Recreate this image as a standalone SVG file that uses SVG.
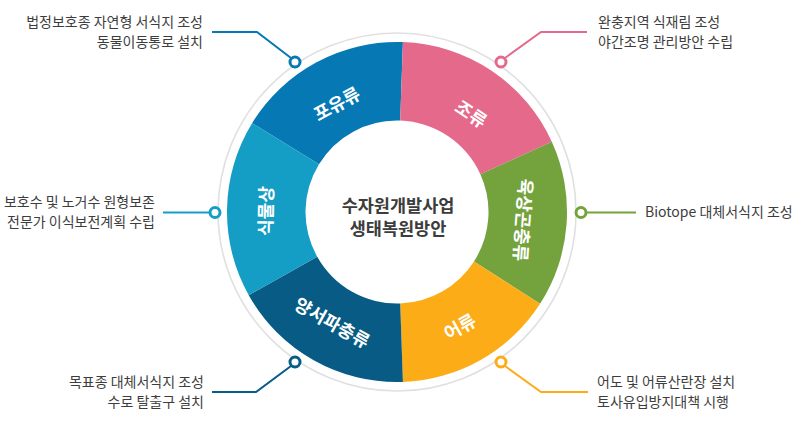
<svg xmlns="http://www.w3.org/2000/svg" width="804" height="424" viewBox="0 0 804 424">
<style>
.seg-label{font-family:"Noto Sans CJK KR","Noto Sans",sans-serif;font-size:18px;font-weight:700;fill:#ffffff;text-anchor:middle}
.center{font-family:"Noto Sans CJK KR","Noto Sans",sans-serif;font-size:17.5px;font-weight:700;fill:#3c3c3c;text-anchor:middle}
.note{font-family:"Noto Sans CJK KR","Noto Sans",sans-serif;font-size:14px;fill:#3d3d3d}
.end{text-anchor:end}
.dot{fill:#ffffff;stroke-width:3}
.lead{fill:none;stroke-width:2}
</style>
<rect width="804" height="424" fill="#ffffff"/>
<circle cx="397" cy="212" r="179" fill="none" stroke="#e0e0e0" stroke-width="1.6"/>
<g id="mammals">
<path d="M252.05,123.17 A170,170 0 0 1 402.93,42.10 L400.19,120.56 A91.5,91.5 0 0 0 318.98,164.19 Z" fill="#0679b4"/>
<text class="seg-label" transform="translate(337,104) rotate(-28.25)" dy="6.5">포유류</text>
</g>
<g id="birds">
<path d="M402.93,42.10 A170,170 0 0 1 551.82,141.77 L480.33,174.20 A91.5,91.5 0 0 0 400.19,120.56 Z" fill="#e5698a"/>
<text class="seg-label" transform="translate(471,114) rotate(33.8)" dy="6.5">조류</text>
</g>
<g id="insects">
<path d="M551.82,141.77 A170,170 0 0 1 540.06,303.84 L474.00,261.43 A91.5,91.5 0 0 0 480.33,174.20 Z" fill="#74a23d"/>
<text class="seg-label" transform="translate(523,220) rotate(94.15)" dy="6.5">육상곤충류</text>
</g>
<g id="fish">
<path d="M540.06,303.84 A170,170 0 0 1 402.93,381.90 L400.19,303.44 A91.5,91.5 0 0 0 474.00,261.43 Z" fill="#fcac17"/>
<text class="seg-label" transform="translate(460,327) rotate(-29.65)" dy="6.5">어류</text>
</g>
<g id="amphibians">
<path d="M402.93,381.90 A170,170 0 0 1 248.75,295.19 L317.21,256.78 A91.5,91.5 0 0 0 400.19,303.44 Z" fill="#075b84"/>
<text class="seg-label" transform="translate(332,323) rotate(29.35)" dy="6.5">양서파충류</text>
</g>
<g id="plants">
<path d="M248.75,295.19 A170,170 0 0 1 252.05,123.17 L318.98,164.19 A91.5,91.5 0 0 0 317.21,256.78 Z" fill="#149ec6"/>
<text class="seg-label" transform="translate(266,211) rotate(-88.9)" dy="6.5">식물상</text>
</g>
<g id="center-title">
<text class="center" x="398" y="212">수자원개발사업</text>
<text class="center" x="398" y="234.5">생태복원방안</text>
</g>
<g id="connectors">
<polyline class="lead" stroke="#0679b4" points="212,32 257,32 291,58"/>
<polyline class="lead" stroke="#e5698a" points="587,32 541,32 505,58"/>
<polyline class="lead" stroke="#149ec6" points="163,212.5 209,212.5"/>
<polyline class="lead" stroke="#74a23d" points="636,212.5 587,212.5"/>
<polyline class="lead" stroke="#075b84" points="212,392 256,392 291,366"/>
<polyline class="lead" stroke="#fcac17" points="588,392 541,392 505,366"/>
<circle class="dot" stroke="#0679b4" cx="295" cy="62" r="5"/>
<circle class="dot" stroke="#e5698a" cx="501" cy="62" r="5"/>
<circle class="dot" stroke="#149ec6" cx="215" cy="212.5" r="5"/>
<circle class="dot" stroke="#74a23d" cx="581" cy="212.5" r="5"/>
<circle class="dot" stroke="#075b84" cx="295" cy="362" r="5"/>
<circle class="dot" stroke="#fcac17" cx="501" cy="362" r="5"/>
</g>
<g id="note-mammals">
<text class="note end" x="203" y="27">법정보호종 자연형 서식지 조성</text>
<text class="note end" x="203" y="47">동물이동통로 설치</text>
</g>
<g id="note-birds">
<text class="note" x="598" y="27">완충지역 식재림 조성</text>
<text class="note" x="598" y="47">야간조명 관리방안 수립</text>
</g>
<g id="note-plants">
<text class="note end" x="155" y="206.5">보호수 및 노거수 원형보존</text>
<text class="note end" x="155" y="226.5">전문가 이식보전계획 수립</text>
</g>
<g id="note-insects">
<text class="note" x="645" y="217">Biotope 대체서식지 조성</text>
</g>
<g id="note-amphibians">
<text class="note end" x="204" y="387">목표종 대체서식지 조성</text>
<text class="note end" x="204" y="407">수로 탈출구 설치</text>
</g>
<g id="note-fish">
<text class="note" x="597" y="387">어도 및 어류산란장 설치</text>
<text class="note" x="597" y="407">토사유입방지대책 시행</text>
</g>
</svg>
